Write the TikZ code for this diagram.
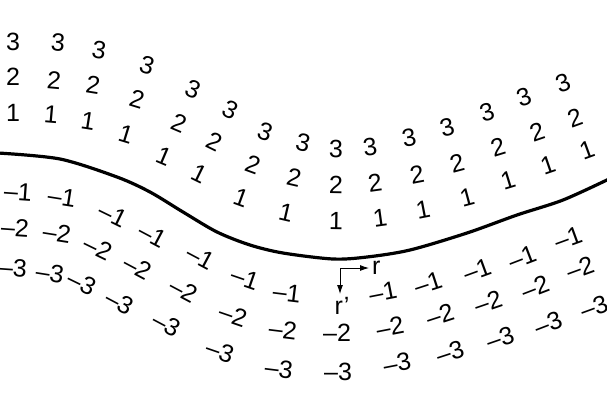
\documentclass[tikz,border=0pt]{standalone}
\usepackage{fontspec}
\setmainfont{Liberation Sans}
\usepackage{tikz}
\usetikzlibrary{arrows.meta}
\usetikzlibrary{positioning}
\tikzset{
    lvl/.style={
           font=\fontsize{25}{29}\selectfont,
           inner sep=0pt,
           anchor=center,
           },
    front/.style={
           line width=3.2pt,
           line join=round,
           },
    rframe/.style={
           ->,
           line width=0.9pt,
           },
}

\begin{document}
\begin{tikzpicture}[x=1pt,y=-1pt,>={Latex[length=9pt,width=6pt]}]

    \useasboundingbox (0,0) rectangle (607,400);

    \draw[front] plot[smooth] coordinates {(-2,153) (60,159) (117,177) (150,192) (183,212) (217,232)
        (250,245) (283,253) (333,259) (367,257) (410,250) (467,233) (517,215) (563,200) (609,179)};

    \foreach \x/\y/\a [count=\i] in {13/113/0, 51/115/-5, 88/121/-9, 126/134/-17, 164/156/-23,
        200/174/-26, 241/198/-20, 286/213/-13, 336/221/-1, 380/218/8, 423/210/11, 467/197/15,
        508/180/17, 548/165/19, 587/150/20}
        \node[lvl,rotate=\a] (one\i) at (\x,\y) {1};
    \foreach \x/\y/\a [count=\i] in {13/77/0, 54/80/-5, 93/85/-9, 137/99/-17, 179/123/-23,
        215/142/-26, 253/165/-20, 294/178/-13, 336/185/-1, 375/183/8, 417/175/11, 457/163/15,
        498/147/17, 537/132/19, 575/118/20}
        \node[lvl,rotate=\a] (two\i) at (\x,\y) {2};
    \foreach \x/\y/\a [count=\i] in {13/42/0, 58/43/-5, 99/50/-9, 147/65/-17, 193/89/-23,
        231/110/-26, 265/132/-20, 303/143/-13, 336/149/-1, 370/147/8, 409/138/11, 447/127/15,
        487/112/17, 524/97/19, 563/83/20}
        \node[lvl,rotate=\a] (three\i) at (\x,\y) {3};

    \foreach \x/\y/\a [count=\i] in {18/192/-4, 62/197/-9, 113/215/-26, 153/235/-28, 201/257/-28,
        245/278/-19, 287/293/-7, 383/292/11, 428/283/18, 477/270/20, 522/257/21, 568/238/20}
        \node[lvl,rotate=\a] (mone\i) at (\x,\y) {--1};
    \foreach \x/\y/\a [count=\i] in {15/228/-4, 57/233/-9, 98/248/-26, 138/267/-28, 184/290/-28,
        233/315/-19, 283/330/-7, 337/333/0, 390/327/11, 440/315/18, 488/302/19, 535/287/21,
        580/268/20}
        \node[lvl,rotate=\a] (mtwo\i) at (\x,\y) {--2};
    \foreach \x/\y/\a [count=\i] in {13/268/-4, 50/273/-9, 82/283/-26, 120/302/-28, 167/324/-28,
        220/351/-19, 279/369/-7, 338/372/0, 397/363/11, 450/352/18, 500/338/19, 548/323/21,
        594/307/20}
        \node[lvl,rotate=\a] (mthree\i) at (\x,\y) {--3};

    \coordinate (O) at (340,268);
    \coordinate (rx) at (369,268);
    \coordinate (ry) at (340,294);
    \draw[rframe] (O) -- (rx);
    \draw[rframe] (O) -- (ry);
    \node[lvl,right=3pt of rx,anchor=west] (r) {r};
    \node[lvl,below=3pt of ry,anchor=north,xshift=2pt] (rp) {r’};

\end{tikzpicture}
\end{document}
